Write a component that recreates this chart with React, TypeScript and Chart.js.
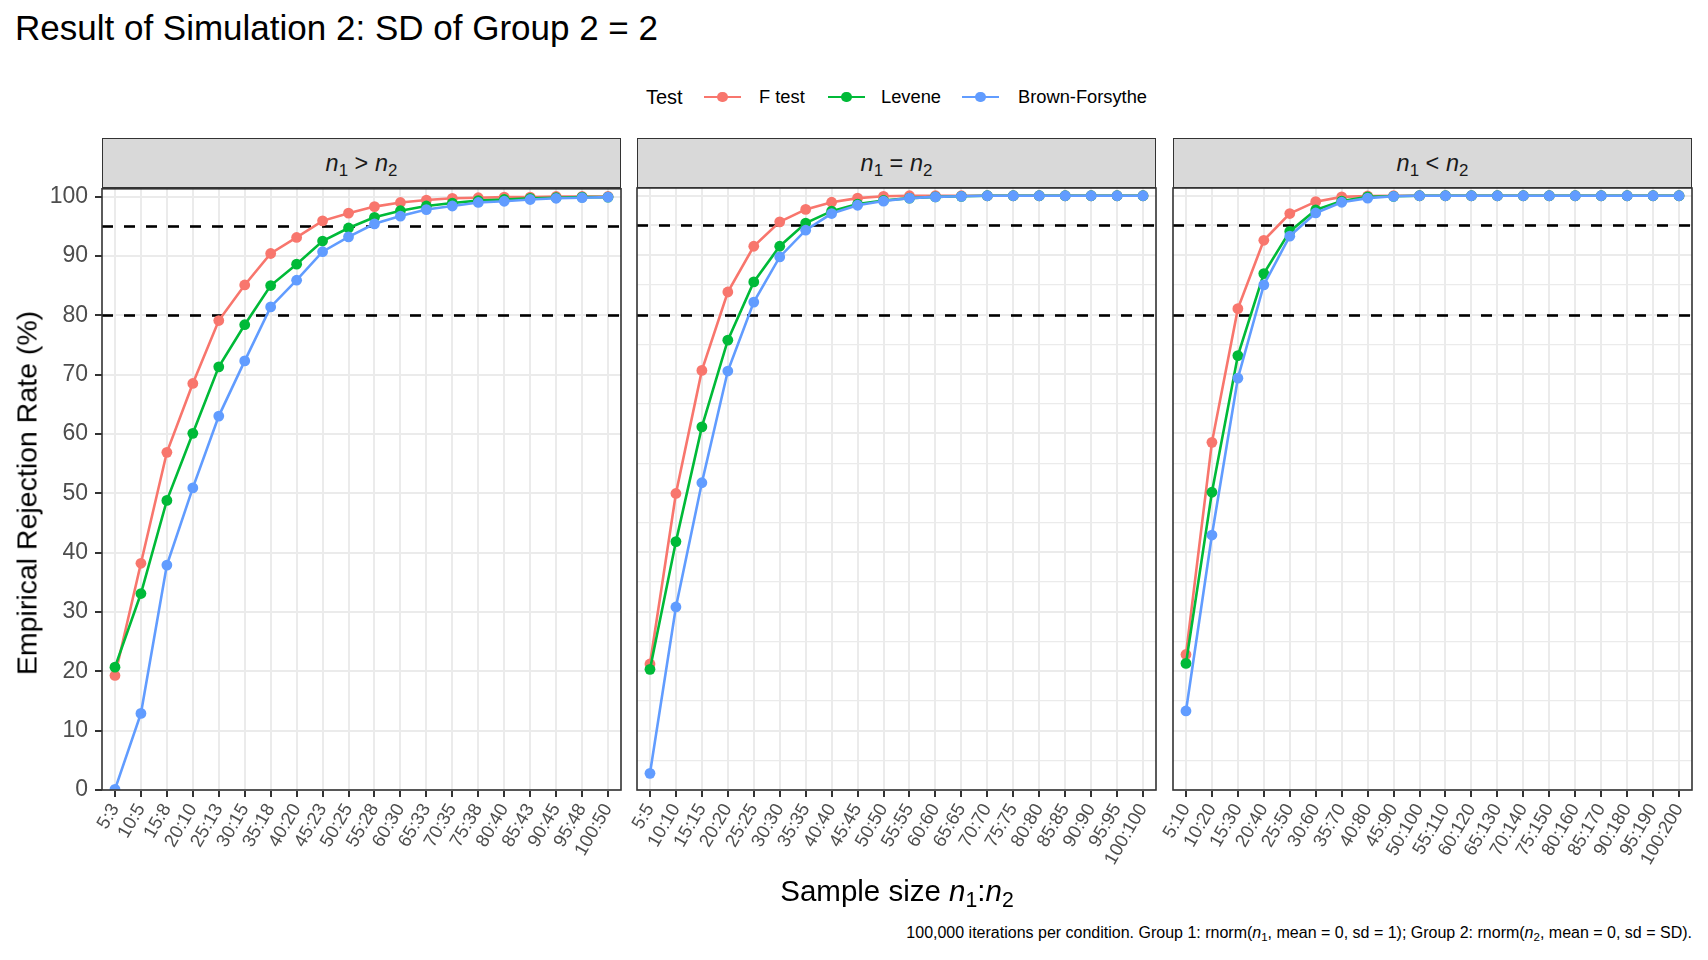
import React, { useEffect, useRef } from "react";
import { Chart, registerables } from "chart.js";

Chart.register(...registerables);

const FONT = "'Liberation Sans', Arial, Helvetica, sans-serif";
Chart.defaults.font.family = FONT;

// ---- data ----
const sizesGreater = ["5:3", "10:5", "15:8", "20:10", "25:13", "30:15", "35:18", "40:20", "45:23", "50:25", "55:28", "60:30", "65:33", "70:35", "75:38", "80:40", "85:43", "90:45", "95:48", "100:50"];
const sizesEqual = ["5:5", "10:10", "15:15", "20:20", "25:25", "30:30", "35:35", "40:40", "45:45", "50:50", "55:55", "60:60", "65:65", "70:70", "75:75", "80:80", "85:85", "90:90", "95:95", "100:100"];
const sizesLess = ["5:10", "10:20", "15:30", "20:40", "25:50", "30:60", "35:70", "40:80", "45:90", "50:100", "55:110", "60:120", "65:130", "70:140", "75:150", "80:160", "85:170", "90:180", "95:190", "100:200"];

const fGreater = [19.3, 38.2, 56.9, 68.5, 79.1, 85.1, 90.4, 93.1, 95.9, 97.2, 98.3, 99.0, 99.4, 99.7, 99.8, 99.9, 99.9, 100, 100, 100];
const leveneGreater = [20.7, 33.1, 48.8, 60.1, 71.3, 78.4, 85.0, 88.6, 92.5, 94.7, 96.5, 97.6, 98.4, 98.9, 99.3, 99.5, 99.7, 99.8, 99.9, 99.9];
const bfGreater = [0.1, 12.9, 37.9, 50.9, 63.0, 72.3, 81.4, 85.9, 90.7, 93.2, 95.4, 96.7, 97.8, 98.4, 99.0, 99.2, 99.5, 99.7, 99.8, 99.9];

const fEqual = [21.2, 49.9, 70.6, 83.8, 91.5, 95.6, 97.7, 98.9, 99.6, 99.9, 100, 100, 100, 100, 100, 100, 100, 100, 100, 100];
const leveneEqual = [20.3, 41.8, 61.1, 75.7, 85.5, 91.5, 95.4, 97.4, 98.6, 99.2, 99.6, 99.8, 99.9, 100, 100, 100, 100, 100, 100, 100];
const bfEqual = [2.8, 30.8, 51.7, 70.5, 82.1, 89.7, 94.2, 97.0, 98.4, 99.1, 99.6, 99.8, 99.9, 100, 100, 100, 100, 100, 100, 100];

const fLess = [22.8, 58.5, 81.0, 92.5, 97.0, 99.0, 99.8, 99.95, 100, 100, 100, 100, 100, 100, 100, 100, 100, 100, 100, 100];
const leveneLess = [21.3, 50.1, 73.1, 86.9, 94.0, 97.6, 99.1, 99.8, 99.9, 100, 100, 100, 100, 100, 100, 100, 100, 100, 100, 100];
const bfLess = [13.3, 42.9, 69.3, 85.0, 93.2, 97.1, 98.9, 99.6, 99.9, 100, 100, 100, 100, 100, 100, 100, 100, 100, 100, 100];

const testNames = ["F test", "Levene", "Brown-Forsythe"];
const testColors = ["#F8766D", "#00BA38", "#619CFF"];

const yGridValues = [0, 5, 10, 15, 20, 25, 30, 35, 40, 45, 50, 55, 60, 65, 70, 75, 80, 85, 90, 95, 100];
const yTickLabels = [0, 10, 20, 30, 40, 50, 60, 70, 80, 90, 95, 100];
const refLines = [80, 95];

// ---- layout (px) ----
const PANEL_TOP = 188;
const PANEL_H = 602;
const PANEL_W = 519;
const STRIP_H = 50;
const panelLefts = [102, 637, 1173];
const Y_AXIS_W = 64;
const X_AXIS_H = 100;
const PAD = { top: 20, right: 16, bottom: 0, left: 30 };
const legendKeyLefts = [704, 828, 962];
const legendTextLefts = [759, 881, 1018];

const panelDecor = {
  id: "panelDecor",
  beforeDatasetsDraw(chart: any) {
    const { ctx, chartArea } = chart;
    const y = chart.scales.y;
    ctx.save();
    ctx.strokeStyle = "#000000";
    ctx.lineWidth = 2.6;
    ctx.setLineDash([11, 11]);
    refLines.forEach((v) => {
      const py = Math.round(y.getPixelForValue(v)) + 0.5;
      ctx.beginPath();
      ctx.moveTo(chartArea.left, py);
      ctx.lineTo(chartArea.right, py);
      ctx.stroke();
    });
    ctx.restore();
  },
  afterDraw(chart: any) {
    const { ctx, chartArea } = chart;
    ctx.save();
    ctx.strokeStyle = "#333333";
    ctx.lineWidth = 1.6;
    ctx.strokeRect(chartArea.left, chartArea.top, chartArea.right - chartArea.left, chartArea.bottom - chartArea.top);
    ctx.restore();
  },
};

interface PanelProps {
  labels: string[];
  series: number[][];
  showY: boolean;
  left: number;
}

const Panel = (props: PanelProps) => {
  const chartRef = useRef<HTMLCanvasElement>(null);
  const chartInstance = useRef<any>(null);
  const yW = props.showY ? Y_AXIS_W : 0;
  const width = PAD.left + yW + PANEL_W + PAD.right;
  const height = PAD.top + PANEL_H + X_AXIS_H;

  useEffect(() => {
    if (!chartRef.current) return;
    const ctx: any = chartRef.current.getContext("2d");
    if (chartInstance.current) chartInstance.current.destroy();

    chartInstance.current = new Chart(ctx, {
      type: "line",
      data: {
        labels: props.labels,
        datasets: props.series.map((values, i) => ({
          label: testNames[i],
          data: values,
          borderColor: testColors[i],
          backgroundColor: testColors[i],
          borderWidth: 2.6,
          pointRadius: 5.4,
          pointBorderWidth: 0,
          pointHoverRadius: 5.4,
          tension: 0,
          fill: false,
          order: 2 - i,
        })),
      },
      options: {
        animation: false,
        responsive: false,
        layout: { padding: PAD },
        plugins: {
          legend: { display: false },
          tooltip: { enabled: false },
        },
        scales: {
          x: {
            type: "category",
            offset: true,
            border: { display: false },
            grid: {
              offset: false,
              color: "#EBEBEB",
              lineWidth: 2,
              tickColor: "#333333",
              tickLength: 7,
              tickWidth: 2,
            },
            ticks: {
              autoSkip: false,
              minRotation: 60,
              maxRotation: 60,
              padding: 3,
              color: "#4D4D4D",
              font: { size: 18.5 },
            },
            afterFit: (scale: any) => {
              scale.height = X_AXIS_H;
            },
          },
          y: {
            min: 0,
            max: 101.3,
            border: { display: false },
            afterBuildTicks: (axis: any) => {
              axis.ticks = yGridValues.map((v) => ({ value: v }));
            },
            grid: {
              color: "#EBEBEB",
              lineWidth: (c: any) => (yTickLabels.includes(c.tick?.value) ? 2 : 1.2),
              tickColor: (c: any) => (yTickLabels.includes(c.tick?.value) ? "#333333" : "rgba(0,0,0,0)"),
              tickLength: props.showY ? 7 : 0,
              drawTicks: props.showY,
              tickWidth: 2,
            },
            ticks: {
              display: props.showY,
              padding: 7,
              color: "#4D4D4D",
              font: { size: 23 },
              callback: (value: any) => (yTickLabels.includes(Number(value)) ? String(value) : ""),
            },
            afterFit: (scale: any) => {
              scale.width = yW;
            },
          },
        },
      },
      plugins: [panelDecor],
    });

    return () => {
      if (chartInstance.current) {
        chartInstance.current.destroy();
        chartInstance.current = null;
      }
    };
  }, []);

  return (
    <canvas
      ref={chartRef}
      width={width}
      height={height}
      style={{
        position: "absolute",
        left: props.left - PAD.left - yW,
        top: PANEL_TOP - PAD.top,
        width,
        height,
      }}
    />
  );
};

const N = (props: { sub: string }) => (
  <span>
    <i>n</i>
    <sub style={{ fontSize: "0.72em", verticalAlign: "-0.3em", lineHeight: 0 }}>{props.sub}</sub>
  </span>
);

const stripLabels = [
  <span key="a"><N sub="1" /> &gt; <N sub="2" /></span>,
  <span key="b"><N sub="1" /> = <N sub="2" /></span>,
  <span key="c"><N sub="1" /> &lt; <N sub="2" /></span>,
];

const LegendKey = (props: { color: string; left: number }) => (
  <span style={{ position: "absolute", left: props.left, top: 87, width: 37, height: 20 }}>
    <span style={{ position: "absolute", left: 0, top: 8.7, width: 37, height: 2.6, background: props.color }} />
    <span style={{ position: "absolute", left: 13.1, top: 4.6, width: 10.8, height: 10.8, borderRadius: "50%", background: props.color }} />
  </span>
);

const App = () => {
  const panels = [
    { labels: sizesGreater, series: [fGreater, leveneGreater, bfGreater] },
    { labels: sizesEqual, series: [fEqual, leveneEqual, bfEqual] },
    { labels: sizesLess, series: [fLess, leveneLess, bfLess] },
  ];

  return (
    <div
      style={{
        position: "absolute",
        left: 0,
        top: 0,
        width: 1708,
        height: 960,
        background: "#FFFFFF",
        fontFamily: FONT,
        color: "#000000",
        overflow: "hidden",
      }}
    >
      <div style={{ position: "absolute", left: 15, top: 10, fontSize: 35, lineHeight: "35px", whiteSpace: "nowrap" }}>
        Result of Simulation 2: SD of Group 2 = 2
      </div>

      <span style={{ position: "absolute", left: 646, top: 85, fontSize: 20, lineHeight: "24px", whiteSpace: "nowrap" }}>Test</span>
      {testNames.map((name, i) => (
        <React.Fragment key={name}>
          <LegendKey color={testColors[i]} left={legendKeyLefts[i]} />
          <span
            style={{
              position: "absolute",
              left: legendTextLefts[i],
              top: 85,
              fontSize: 18.3,
              lineHeight: "24px",
              whiteSpace: "nowrap",
            }}
          >
            {name}
          </span>
        </React.Fragment>
      ))}

      {panelLefts.map((left, i) => (
        <div
          key={"strip" + i}
          style={{
            position: "absolute",
            left,
            top: PANEL_TOP - STRIP_H,
            width: PANEL_W,
            height: STRIP_H,
            boxSizing: "border-box",
            background: "#D9D9D9",
            border: "1.6px solid #333333",
            display: "flex",
            alignItems: "center",
            justifyContent: "center",
            fontSize: 23.5,
            color: "#1A1A1A",
          }}
        >
          {stripLabels[i]}
        </div>
      ))}

      {panels.map((p, i) => (
        <Panel key={"panel" + i} labels={p.labels} series={p.series} showY={i === 0} left={panelLefts[i]} />
      ))}

      <div
        style={{
          position: "absolute",
          left: 27,
          top: PANEL_TOP + PANEL_H / 2 + 4,
          transform: "translate(-50%, -50%) rotate(-90deg)",
          fontSize: 28.5,
          whiteSpace: "nowrap",
        }}
      >
        Empirical Rejection Rate (%)
      </div>

      <div
        style={{
          position: "absolute",
          left: 897,
          top: 891,
          transform: "translate(-50%, -50%)",
          fontSize: 29.5,
          whiteSpace: "nowrap",
        }}
      >
        Sample size <i>n</i>
        <sub style={{ fontSize: "0.72em", verticalAlign: "-0.3em", lineHeight: 0 }}>1</sub>:<i>n</i>
        <sub style={{ fontSize: "0.72em", verticalAlign: "-0.3em", lineHeight: 0 }}>2</sub>
      </div>

      <div
        style={{
          position: "absolute",
          right: 1708 - 1692,
          top: 923,
          fontSize: 16,
          lineHeight: "20px",
          whiteSpace: "nowrap",
        }}
      >
        100,000 iterations per condition. Group 1: rnorm(<N sub="1" />, mean = 0, sd = 1); Group 2: rnorm(<N sub="2" />, mean = 0, sd = SD).
      </div>
    </div>
  );
};

export default App;
